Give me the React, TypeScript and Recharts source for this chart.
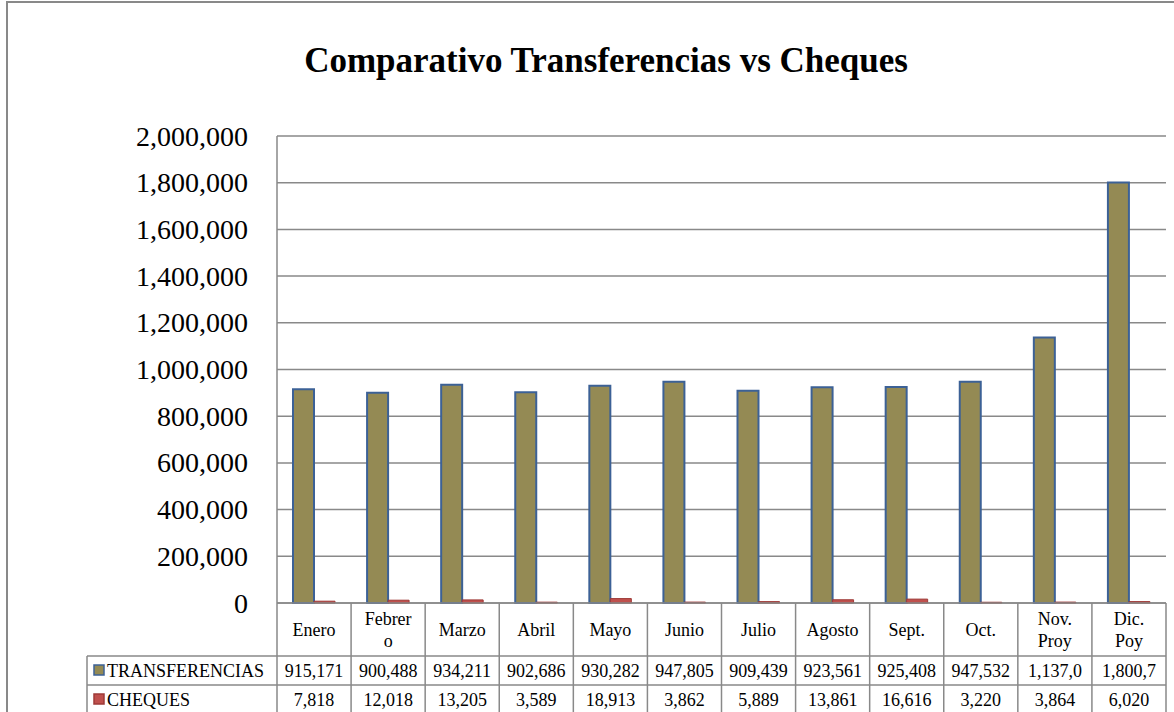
import { Bar, BarChart, CartesianGrid, XAxis, YAxis } from "recharts";

const months = [
  "Enero",
  "Febrer\no",
  "Marzo",
  "Abril",
  "Mayo",
  "Junio",
  "Julio",
  "Agosto",
  "Sept.",
  "Oct.",
  "Nov.\nProy",
  "Dic.\nPoy",
];
const transferencias = [
  915171, 900488, 934211, 902686, 930282, 947805, 909439, 923561, 925408, 947532, 1137045, 1800712,
];
const cheques = [7818, 12018, 13205, 3589, 18913, 3862, 5889, 13861, 16616, 3220, 3864, 6020];
const yTicks = [0, 200000, 400000, 600000, 800000, 1000000, 1200000, 1400000, 1600000, 1800000, 2000000];

const data = months.map((m, i) => ({ mes: m, TRANSFERENCIAS: transferencias[i], CHEQUES: cheques[i] }));

const W = 1174;
const H = 712;
const PLOT_L = 277;
const PLOT_R = 1166;
const PLOT_T = 136;
const PLOT_B = 603;
const ROW1 = 656;
const ROW2 = 685;
const ROW3 = 714;
const TABLE_L = 87;
const FONT = '"Liberation Serif", "Times New Roman", serif';
const GRID = "#898989";
const OLIVE = "#948A54";
const BLUE = "#3C6196";
const RED = "#C0504D";
const RED_DARK = "#9E3A37";

const fmt = (v: number) => v.toLocaleString("en-US");
// the cells of the data table are narrow, Excel clips long numbers
const cell = (v: number) => fmt(v).slice(0, 7);

function YTick(props: any) {
  const { y, payload } = props;
  return (
    <text x={248} y={y} textAnchor="end" dominantBaseline="central" fontFamily={FONT} fontSize={28} fill="#000">
      {fmt(payload.value)}
    </text>
  );
}

function TableTick(props: any) {
  const { x, index } = props;
  const colW = (PLOT_R - PLOT_L) / months.length;
  const left = x - colW / 2;
  const right = x + colW / 2;
  const lines = months[index].split("\n");
  const mid = (PLOT_B + ROW1) / 2;
  const txt = { fontFamily: FONT, fontSize: 18, fill: "#000", dominantBaseline: "central" as const };
  return (
    <g>
      {index === 0 && (
        <g>
          <line x1={TABLE_L} y1={ROW1} x2={PLOT_R} y2={ROW1} stroke={GRID} strokeWidth={1.5} />
          <line x1={TABLE_L} y1={ROW2} x2={PLOT_R} y2={ROW2} stroke={GRID} strokeWidth={1.5} />
          <line x1={TABLE_L} y1={ROW1} x2={TABLE_L} y2={ROW3} stroke={GRID} strokeWidth={1.5} />
          <line x1={left} y1={PLOT_B} x2={left} y2={ROW3} stroke={GRID} strokeWidth={1.5} />
          <rect x={94} y={665} width={10} height={10} fill={OLIVE} stroke={BLUE} strokeWidth={1.5} />
          <text x={107} y={(ROW1 + ROW2) / 2} {...txt}>TRANSFERENCIAS</text>
          <rect x={94} y={694} width={10} height={10} fill={RED} stroke={RED_DARK} strokeWidth={1.5} />
          <text x={107} y={(ROW2 + ROW3) / 2} {...txt}>CHEQUES</text>
        </g>
      )}
      <line x1={right} y1={PLOT_B} x2={right} y2={ROW3} stroke={GRID} strokeWidth={1.5} />
      {lines.map((l, i) => (
        <text
          key={i}
          x={x}
          y={mid + (i - (lines.length - 1) / 2) * 22}
          textAnchor="middle"
          {...txt}
        >
          {l}
        </text>
      ))}
      <text x={x} y={(ROW1 + ROW2) / 2} textAnchor="middle" {...txt}>
        {cell(transferencias[index])}
      </text>
      <text x={x} y={(ROW2 + ROW3) / 2} textAnchor="middle" {...txt}>
        {cell(cheques[index])}
      </text>
    </g>
  );
}

export default function App() {
  return (
    <div style={{ position: "absolute", left: 0, top: 0, width: W, height: H, overflow: "hidden", background: "#fff" }}>
      <div
        style={{
          position: "absolute",
          left: 6,
          top: 1,
          width: W,
          height: H,
          borderLeft: `2px solid ${GRID}`,
          borderTop: `2px solid ${GRID}`,
        }}
      />
      <div
        style={{
          position: "absolute",
          left: 0,
          top: 43,
          width: 1212,
          textAlign: "center",
          fontFamily: FONT,
          fontWeight: "bold",
          fontSize: 35,
          lineHeight: "35px",
          color: "#000",
        }}
      >
        Comparativo Transferencias vs Cheques
      </div>
      <div style={{ position: "absolute", left: 0, top: 0 }}>
        <BarChart
          width={W}
          height={H}
          data={data}
          margin={{ top: PLOT_T, right: W - PLOT_R, bottom: 0, left: 0 }}
          barSize={21}
          barGap={0}
        >
          <CartesianGrid vertical={false} stroke={GRID} strokeWidth={1.5} />
          <YAxis
            width={PLOT_L}
            domain={[0, 2000000]}
            ticks={yTicks}
            interval={0}
            tick={<YTick />}
            tickLine={false}
            axisLine={{ stroke: GRID, strokeWidth: 1.5 }}
          />
          <XAxis
            dataKey="mes"
            height={H - PLOT_B}
            interval={0}
            tick={<TableTick />}
            tickLine={false}
            axisLine={{ stroke: GRID, strokeWidth: 1.5 }}
          />
          <Bar dataKey="TRANSFERENCIAS" fill={OLIVE} stroke={BLUE} strokeWidth={2} isAnimationActive={false} />
          <Bar dataKey="CHEQUES" fill={RED} stroke={RED_DARK} strokeWidth={1} isAnimationActive={false} />
        </BarChart>
      </div>
    </div>
  );
}
